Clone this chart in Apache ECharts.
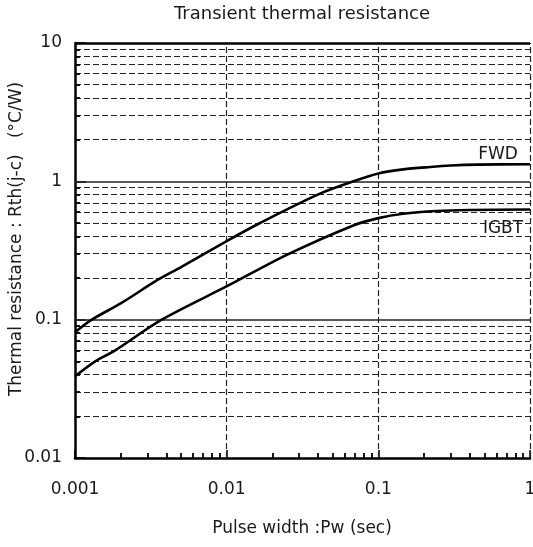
<!DOCTYPE html>
<html><head><meta charset="utf-8">
<script src="https://cdn.jsdelivr.net/npm/echarts@6/dist/echarts.min.js"></script>
<style>html,body{margin:0;padding:0;background:#fff}#c{width:533px;height:547px}</style>
</head><body><div id="c"></div>
<script>
// ---- data ----
const xTickLabels = ['0.001', '0.01', '0.1', '1'];
const yTickLabels = ['0.01', '0.1', '1', '10'];
const xMinorTicks = [0.002,0.003,0.004,0.005,0.006,0.007,0.008,0.009,
                     0.02,0.03,0.04,0.05,0.06,0.07,0.08,0.09,
                     0.2,0.3,0.4,0.5,0.6,0.7,0.8,0.9];
const yMinorTicks = [0.02,0.03,0.04,0.05,0.06,0.07,0.08,0.09,
                     0.2,0.3,0.4,0.5,0.6,0.7,0.8,0.9,
                     2,3,4,5,6,7,8,9];
const xDashedGrid = [0.01, 0.1, 1];
const ySolidGrid = [0.1, 1];
const yTopBorder = [10];

const fwdX = [0.001, 0.00129, 0.002, 0.00346, 0.005, 0.01, 0.0166, 0.0412, 0.0684, 0.1, 0.146, 0.22, 0.3, 0.45, 1];
const fwdY = [0.081, 0.1, 0.131, 0.192, 0.24, 0.37, 0.5, 0.815, 1.0, 1.14, 1.22, 1.27, 1.3, 1.32, 1.33];
const igbtX = [0.001, 0.00136, 0.00184, 0.00373, 0.0102, 0.0249, 0.0684, 0.1, 0.146, 0.242, 0.4, 1];
const igbtY = [0.039, 0.05, 0.06, 0.1, 0.176, 0.294, 0.48, 0.542, 0.583, 0.61, 0.62, 0.625];

const FONT = 'DejaVu Sans';
const TXT = '#1a1a1a';
const X_MIN = 0.001, X_MAX = 1, Y_MIN = 0.01, Y_MAX = 10;

function lookup(labels, base) {
  return function (v) {
    const i = Math.round(Math.log10(v)) - base;
    return labels[i] !== undefined ? labels[i] : '';
  };
}
function pairs(xs, ys) { return xs.map((x, i) => [x, ys[i]]); }

const dashStyle = { type: [6, 3], color: '#222', width: 1.2 };

const chart = echarts.init(document.getElementById('c'), null, { renderer: 'canvas' });
chart.setOption({
  animation: false,
  backgroundColor: '#fff',
  grid: { left: 75, right: 3, top: 43, bottom: 89, outerBoundsMode: 'none', containLabel: false },
  xAxis: {
    type: 'log', logBase: 10, min: X_MIN, max: X_MAX, position: 'bottom',
    axisLine: { show: true, onZero: false, lineStyle: { color: '#000', width: 2.5 } },
    axisTick: { show: true, inside: true, length: 8, lineStyle: { color: '#000', width: 1.5 } },
    axisLabel: { show: true, margin: 23, fontFamily: FONT, fontSize: 17, color: TXT, formatter: lookup(xTickLabels, -3) },
    splitLine: { show: false }
  },
  yAxis: {
    type: 'log', logBase: 10, min: Y_MIN, max: Y_MAX, position: 'left',
    axisLine: { show: true, onZero: false, lineStyle: { color: '#000', width: 2.5 } },
    axisTick: { show: true, inside: true, length: 11, lineStyle: { color: '#000', width: 1.5 } },
    axisLabel: { show: true, margin: 13, padding: [10, 0, 0, 0], fontFamily: FONT, fontSize: 17, color: TXT, formatter: lookup(yTickLabels, -2) },
    splitLine: { show: false }
  },
  graphic: [
    { type: 'text', x: 302, y: 14, style: { text: 'Transient thermal resistance', font: '18px "DejaVu Sans"', fill: TXT, textAlign: 'center', textVerticalAlign: 'middle' } },
    { type: 'text', x: 302, y: 529, style: { text: 'Pulse width :Pw (sec)', font: '17px "DejaVu Sans"', fill: TXT, textAlign: 'center', textVerticalAlign: 'middle' } },
    { type: 'text', x: 16.5, y: 239, rotation: Math.PI / 2, style: { text: 'Thermal resistance : Rth(j-c)   (°C/W)', font: '17px "DejaVu Sans"', fill: TXT, textAlign: 'center', textVerticalAlign: 'middle' } },
    { type: 'text', x: 498, y: 155, style: { text: 'FWD', font: '17px "DejaVu Sans"', fill: TXT, textAlign: 'center', textVerticalAlign: 'middle' } },
    { type: 'text', x: 503, y: 229, style: { text: 'IGBT', font: '17px "DejaVu Sans"', fill: TXT, textAlign: 'center', textVerticalAlign: 'middle' } }
  ],
  series: [{
    name: 'grid', type: 'line', data: [], silent: true,
    markLine: {
      silent: true, symbol: ['none', 'none'], label: { show: false }, animation: false,
      data: [].concat(
        yMinorTicks.map(v => ({ yAxis: v, lineStyle: dashStyle })),
        xDashedGrid.map(v => ({ xAxis: v, lineStyle: dashStyle })),
        ySolidGrid.map(v => ({ yAxis: v, lineStyle: { type: 'solid', color: '#222', width: 1.5 } })),
        yTopBorder.map(v => ({ yAxis: v, lineStyle: { type: 'solid', color: '#000', width: 2.5 } }))
      )
    }
  }, {
    name: 'ticks', type: 'line', data: [], silent: true
  }, {
    name: 'FWD', type: 'line', data: pairs(fwdX, fwdY), smooth: 0.3, showSymbol: false,
    lineStyle: { color: '#000', width: 2.6 }, z: 5
  }, {
    name: 'IGBT', type: 'line', data: pairs(igbtX, igbtY), smooth: 0.3, showSymbol: false,
    lineStyle: { color: '#000', width: 2.6 }, z: 5
  }]
});

// minor ticks: 5px inward marks, their far end found through the axes' own scales
try {
  const TICK = 5;
  const bottomPx = chart.convertToPixel({ yAxisIndex: 0 }, Y_MIN);
  const leftPx = chart.convertToPixel({ xAxisIndex: 0 }, X_MIN);
  const yTickEnd = chart.convertFromPixel({ yAxisIndex: 0 }, bottomPx - TICK);
  const xTickEnd = chart.convertFromPixel({ xAxisIndex: 0 }, leftPx + TICK);
  if (isFinite(yTickEnd) && isFinite(xTickEnd)) {
    const tickStyle = { type: 'solid', color: '#000', width: 1.8 };
    chart.setOption({
      series: [{}, {
        name: 'ticks',
        markLine: {
          silent: true, symbol: ['none', 'none'], label: { show: false }, animation: false,
          lineStyle: tickStyle,
          data: [].concat(
            xMinorTicks.map(v => [{ coord: [v, Y_MIN] }, { coord: [v, yTickEnd] }]),
            yMinorTicks.map(v => [{ coord: [X_MIN, v] }, { coord: [xTickEnd, v] }])
          )
        }
      }]
    });
  }
} catch (e) { /* keep chart without minor ticks */ }
</script>
</body></html>
